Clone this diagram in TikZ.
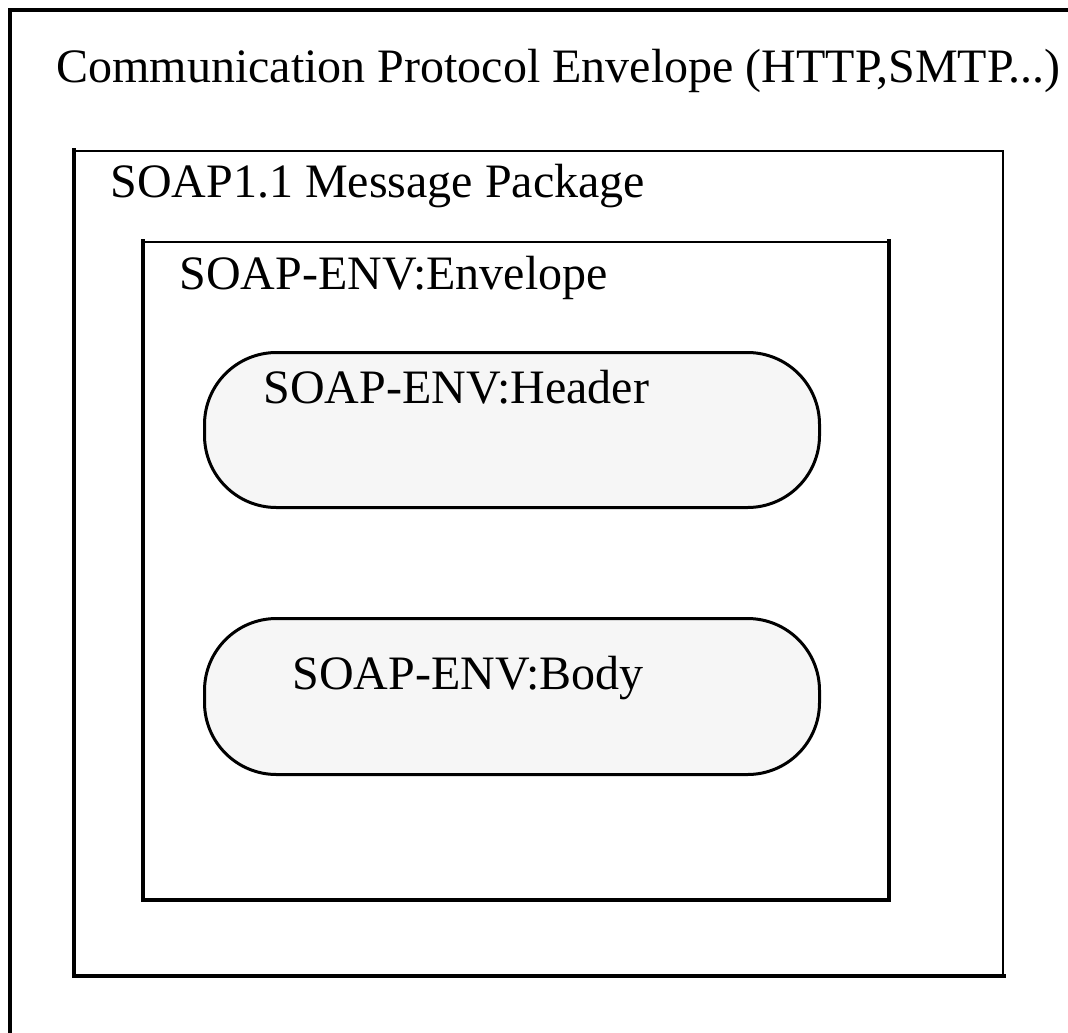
\documentclass[tikz,border=0pt]{standalone}
\usepackage{fontspec}
\setmainfont{Liberation Serif}
\usetikzlibrary{positioning}
\definecolor{pillGrey}{HTML}{F6F6F6}
\tikzset{
  frame/.style     = {draw, line width=1pt, inner sep=0pt, anchor=north west},
  heavyside/.style = {line width=2pt, line cap=rect},
  pill/.style      = {draw, fill=pillGrey, line width=1.5pt, rounded corners=36pt,
                      inner sep=0pt, anchor=north west},
  lbl/.style       = {anchor=base west, inner sep=0pt,
                      font=\fontsize{24}{28}\selectfont},
}

\begin{document}
\begin{tikzpicture}[x=0.5pt,y=-0.5pt]
  \useasboundingbox (0,0) rectangle (1068,1032);
  \clip (0,0) rectangle (1068,1032);
  % outer protocol envelope (runs off the right and bottom)
  \node[frame, minimum width=560pt, minimum height=545pt] (protocol) at (10,10) {};
  \draw[heavyside] (protocol.south west) -- (protocol.north west) -- (protocol.north east);
  \node[lbl] (protocolLbl) at (56,83) {Communication Protocol Envelope (HTTP,SMTP...)};
  % SOAP message package
  \node[frame, minimum width=464pt, minimum height=412pt] (package) at (74,150) {};
  \draw[heavyside] (package.north west) -- (package.south west) -- (package.south east);
  \node[lbl] (packageLbl) at (110,198) {SOAP1.1 Message Package};
  % SOAP envelope
  \node[frame, minimum width=372pt, minimum height=328.5pt] (envelope) at (143,241) {};
  \draw[heavyside] (envelope.north west) -- (envelope.south west)
    -- (envelope.south east) -- (envelope.north east);
  \node[lbl] (envelopeLbl) at (179,289) {SOAP-ENV:Envelope};
  % header and body
  \node[pill, minimum width=307.5pt, minimum height=77.5pt] (header) at (203,351) {};
  \node[lbl] (headerLbl) at (263,403) {SOAP-ENV:Header};
  \node[pill, minimum width=307.5pt, minimum height=78pt] (body) at (203,617) {};
  \node[lbl] (bodyLbl) at (292,689) {SOAP-ENV:Body};
\end{tikzpicture}
\end{document}
